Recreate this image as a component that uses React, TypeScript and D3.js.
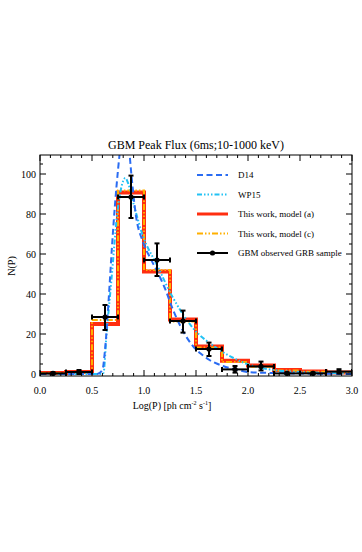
import React, { useEffect, useRef } from "react"
import * as d3 from "d3"

// histogram bins in Log(P)
const binEdges = [0, 0.25, 0.5, 0.75, 1.0, 1.25, 1.5, 1.75, 2.0, 2.25, 2.5, 2.75, 3.0]
const binCenters = [0.125, 0.375, 0.625, 0.875, 1.125, 1.375, 1.625, 1.875, 2.125, 2.375, 2.625, 2.875]

// models
const modelA = [0.5, 1, 25, 90.8, 51.2, 27.3, 13.8, 6.6, 4.2, 2, 1.3, 0.8]
const modelC = [0.4, 0.8, 27, 91.7, 52, 26.2, 13.3, 6, 3.6, 1.8, 1.1, 0.6]

// observed GBM sample
const observed = [0.3, 1, 28.5, 88.5, 57, 26.5, 12.5, 2.3, 3.8, 0.3, 0.3, 1.2]
const observedLow = [0, 0, 22, 78, 49, 20.7, 9, 0.7, 1.8, 0, 0, 0.2]
const observedHigh = [0.8, 2, 34.5, 99.2, 65.3, 31.7, 15.7, 4, 6.2, 0.8, 0.8, 2.4]

// D14 curve
const d14X = [0, 0.55, 0.6, 0.625, 0.66, 0.69, 0.72, 0.75, 0.785, 0.82, 0.85, 0.88, 0.92, 0.99, 1.06, 1.12, 1.2, 1.28, 1.38, 1.47, 1.55, 1.63, 1.76, 1.9, 2.0, 2.25, 3.0]
const d14Y = [0, 0, 2, 12, 37, 62, 84, 102, 118, 124, 116, 99, 80, 66, 58, 52, 43, 32, 21, 14, 10, 7, 4, 2, 1, 0.5, 0]

// WP15 curve
const wp15X = [0, 0.58, 0.61, 0.64, 0.69, 0.74, 0.785, 0.82, 0.85, 0.9, 0.99, 1.12, 1.28, 1.47, 1.67, 1.86, 2.05, 2.25, 2.5, 3.0]
const wp15Y = [0, 0, 0.5, 20, 49, 79, 94, 98, 95, 85, 69, 55, 38, 23, 14, 8, 4, 2, 1, 0.3]

const xTicks = [0, 0.5, 1.0, 1.5, 2.0, 2.5, 3.0]
const yTicks = [0, 20, 40, 60, 80, 100]

const legendLabels = ["D14", "WP15", "This work, model (a)", "This work, model (c)", "GBM observed GRB sample"]

const W = 362
const H = 552
const FONT = "'Liberation Serif', 'DejaVu Serif', serif"

const C_D14 = "#2a6cf2"
const C_WP15 = "#22c2f4"
const C_A = "#ff2e10"
const C_C = "#ffb000"

export default function App() {
  const ref = useRef<SVGSVGElement>(null)

  useEffect(() => {
    const svg = d3.select(ref.current)
    svg.selectAll("*").remove()

    const left = 40, right = 352, top = 155, bottom = 376

    const x = d3.scaleLinear().domain([0, 3]).range([left, right])
    const y = d3.scaleLinear().domain([-1, 109.5]).range([bottom, top])

    svg.append("defs").append("clipPath").attr("id", "plotclip")
      .append("rect").attr("x", left).attr("y", top).attr("width", right - left).attr("height", bottom - top)

    const plot = svg.append("g").attr("clip-path", "url(#plotclip)")

    const step = d3.line<[number, number]>().x(d => x(d[0])).y(d => y(d[1])).curve(d3.curveStepAfter)
    const stepPts = (vals: number[]) => {
      const pts: [number, number][] = vals.map((v, i) => [binEdges[i], v])
      pts.push([binEdges[binEdges.length - 1], vals[vals.length - 1]])
      return pts
    }

    const smooth = d3.line<[number, number]>().x(d => x(d[0])).y(d => y(d[1])).curve(d3.curveMonotoneX)

    // model (a)
    plot.append("path").attr("d", step(stepPts(modelA))).attr("fill", "none")
      .attr("stroke", C_A).attr("stroke-width", 4)
    // model (c)
    plot.append("path").attr("d", step(stepPts(modelC))).attr("fill", "none")
      .attr("stroke", C_C).attr("stroke-width", 2).attr("stroke-dasharray", "6,2,1.5,2,1.5,2")

    // WP15
    plot.append("path").attr("d", smooth(wp15X.map((v, i) => [v, wp15Y[i]] as [number, number])))
      .attr("fill", "none").attr("stroke", C_WP15).attr("stroke-width", 2)
      .attr("stroke-dasharray", "5,2,1.5,2,1.5,2,1.5,2")
    // D14
    plot.append("path").attr("d", smooth(d14X.map((v, i) => [v, d14Y[i]] as [number, number])))
      .attr("fill", "none").attr("stroke", C_D14).attr("stroke-width", 2)
      .attr("stroke-dasharray", "6,3.5")

    // observed points with error bars
    const obs = plot.append("g").attr("stroke", "#000").attr("stroke-width", 2)
    binCenters.forEach((c, i) => {
      const x0 = x(binEdges[i]), x1 = x(binEdges[i + 1])
      const yc = y(observed[i]), yl = y(observedLow[i]), yh = y(observedHigh[i])
      obs.append("line").attr("x1", x0).attr("x2", x1).attr("y1", yc).attr("y2", yc)
      obs.append("line").attr("x1", x0).attr("x2", x0).attr("y1", yc - 2.5).attr("y2", yc + 2.5)
      obs.append("line").attr("x1", x1).attr("x2", x1).attr("y1", yc - 2.5).attr("y2", yc + 2.5)
      obs.append("line").attr("x1", x(c)).attr("x2", x(c)).attr("y1", yl).attr("y2", yh)
      obs.append("line").attr("x1", x(c) - 2.5).attr("x2", x(c) + 2.5).attr("y1", yl).attr("y2", yl)
      obs.append("line").attr("x1", x(c) - 2.5).attr("x2", x(c) + 2.5).attr("y1", yh).attr("y2", yh)
      obs.append("circle").attr("cx", x(c)).attr("cy", yc).attr("r", 2.6).attr("fill", "#000").attr("stroke", "none")
    })

    // frame and ticks
    const axes = svg.append("g").attr("stroke", "#000").attr("stroke-width", 1)
    axes.append("rect").attr("x", left).attr("y", top).attr("width", right - left).attr("height", bottom - top)
      .attr("fill", "none")

    d3.range(0, 3.0001, 0.1).forEach(v => {
      const major = Math.abs(v * 2 - Math.round(v * 2)) < 1e-6
      const len = major ? 6 : 3
      axes.append("line").attr("x1", x(v)).attr("x2", x(v)).attr("y1", bottom).attr("y2", bottom - len)
      axes.append("line").attr("x1", x(v)).attr("x2", x(v)).attr("y1", top).attr("y2", top + len)
    })
    d3.range(0, 106, 5).forEach(v => {
      const major = v % 20 === 0
      const len = major ? 6 : 3
      axes.append("line").attr("x1", left).attr("x2", left + len).attr("y1", y(v)).attr("y2", y(v))
      axes.append("line").attr("x1", right).attr("x2", right - len).attr("y1", y(v)).attr("y2", y(v))
    })

    const txt = svg.append("g").attr("font-family", FONT).attr("fill", "#000")

    xTicks.forEach(v => {
      txt.append("text").attr("x", x(v)).attr("y", 394).attr("text-anchor", "middle")
        .attr("font-size", 10).text(d3.format(".1f")(v))
    })
    yTicks.forEach(v => {
      txt.append("text").attr("x", left - 4).attr("y", y(v) + 3.5).attr("text-anchor", "end")
        .attr("font-size", 10).text(String(v))
    })

    txt.append("text").attr("x", (left + right) / 2).attr("y", 149).attr("text-anchor", "middle")
      .attr("font-size", 12).text("GBM Peak Flux (6ms;10-1000 keV)")

    txt.append("text").attr("transform", "translate(15,266) rotate(-90)").attr("text-anchor", "middle")
      .attr("font-size", 10).text("N(P)")

    const xl = txt.append("text").attr("x", 172).attr("y", 409).attr("text-anchor", "middle").attr("font-size", 10)
    xl.append("tspan").text("Log(P) [ph cm")
    xl.append("tspan").attr("font-size", 6).attr("dy", -4).text("-2")
    xl.append("tspan").attr("dy", 4).text(" s")
    xl.append("tspan").attr("font-size", 6).attr("dy", -4).text("-1")
    xl.append("tspan").attr("dy", 4).text("]")

    // legend
    const legY = [175, 194.5, 214, 233.5, 253]
    const lx0 = 197, lx1 = 228
    const lg = svg.append("g")
    const sample = (i: number, color: string, width: number, dash: string | null) => {
      const l = lg.append("line").attr("x1", lx0).attr("x2", lx1).attr("y1", legY[i]).attr("y2", legY[i])
        .attr("stroke", color).attr("stroke-width", width)
      if (dash) l.attr("stroke-dasharray", dash)
    }
    sample(0, C_D14, 2, "6,3.5")
    sample(1, C_WP15, 2, "5,2,1.5,2,1.5,2,1.5,2")
    sample(2, C_A, 3, null)
    sample(3, C_C, 2, "6,2,1.5,2,1.5,2")
    sample(4, "#000", 2, null)
    lg.append("circle").attr("cx", (lx0 + lx1) / 2).attr("cy", legY[4]).attr("r", 2.6).attr("fill", "#000")

    legendLabels.forEach((t, i) => {
      txt.append("text").attr("x", 238).attr("y", legY[i] + 3).attr("font-size", 9).text(t)
    })
  }, [])

  return (
    <svg ref={ref} width={W} height={H} style={{ position: "absolute", left: 0, top: 0, background: "#fff" }} />
  )
}
